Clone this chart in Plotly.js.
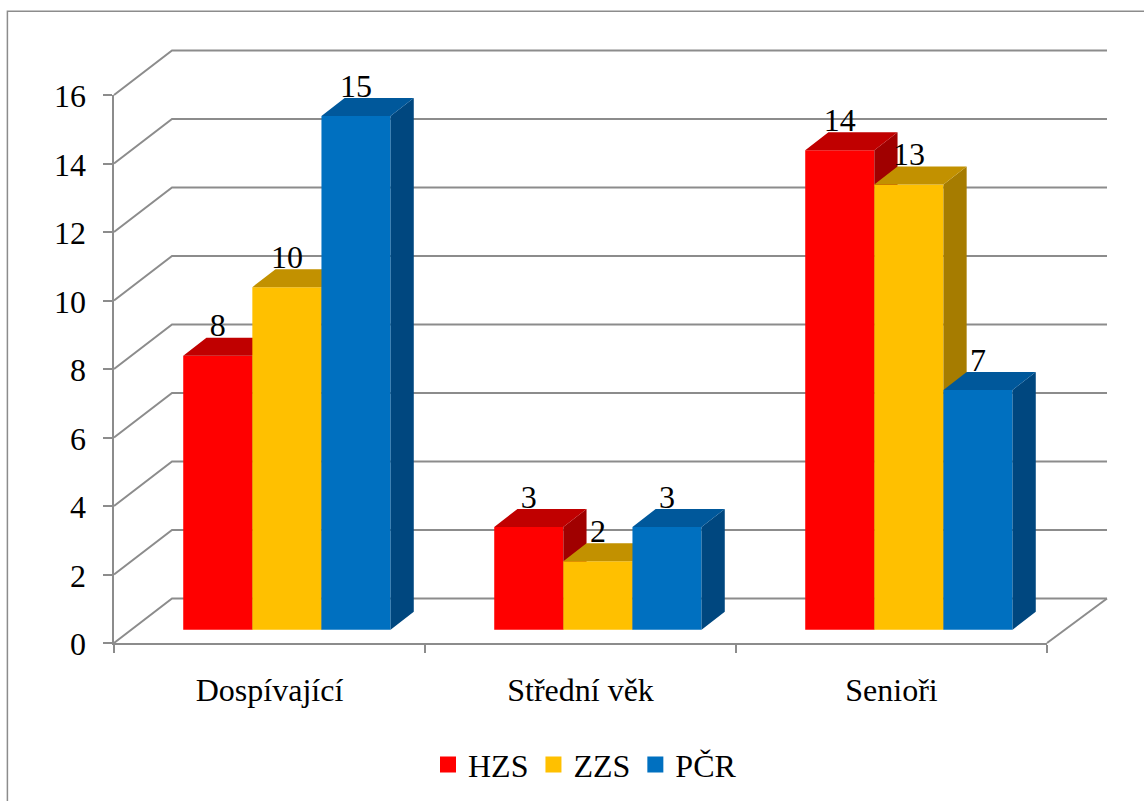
<!DOCTYPE html>
<html>
<head>
<meta charset="utf-8">
<script src="https://cdn.plot.ly/plotly-3.0.1.min.js"></script>
<style>html,body{margin:0;padding:0;background:#fff}#chart{width:1144px;height:801px}</style>
</head>
<body>
<div id="chart"></div>
<script>
const categories = ['Dospívající', 'Střední věk', 'Senioři'];
const seriesNames = ['HZS', 'ZZS', 'PČR'];
const hzs = [8, 3, 14];
const zzs = [10, 2, 13];
const pcr = [15, 3, 7];
const yTicks = [0, 2, 4, 6, 8, 10, 12, 14, 16];

const seriesValues = [hzs, zzs, pcr];
const frontColors = ['#FF0000', '#FFC000', '#0070C0'];
const topColors = ['#C00000', '#C29100', '#00589B'];
const sideColors = ['#A00000', '#A67C00', '#00477F'];

// Page geometry of the plot box, in pixels.
const W = 1144, H = 801;
const box = {l: 114, r: 1047, t: 95.3, b: 642.8};
const pxX = (box.r - box.l) / categories.length;
const pxY = (box.b - box.t) / 16;

// Oblique projection: the full floor depth expressed in axis units.
const floorDX = 58 / pxX, floorDXRight = 60 / pxX, floorDY = 44.5 / pxY;
const frontGap = 0.30, barDepth = 0.40;
const liftX = floorDX * frontGap, liftY = floorDY * frontGap;
const depthX = floorDX * barDepth, depthY = floorDY * barDepth;
const barW = 1 / 4.5, sideGap = (1 - 3 * barW) / 2;
const labelDrop = 6.5 / pxY;

const FONT = 'Liberation Serif, Times New Roman, serif';
const FONT_SIZE = 32;
const GRID = '#8C8C8C';
const LINE_W = 2;
const traces = [];

// Legend keys.
seriesNames.forEach((name, s) => traces.push({x: [null], y: [null], type: 'scatter', mode: 'markers', name,
  marker: {symbol: 'square', size: 16, color: frontColors[s]}, xaxis: 'x', yaxis: 'y'}));

// One overlaid subplot per series, so a later series paints over the sides of the previous one.
seriesNames.forEach((name, s) => {
  const xa = s ? 'x' + (s + 1) : 'x', ya = s ? 'y' + (s + 1) : 'y';
  const vals = seriesValues[s];
  const lefts = categories.map((_, c) => c + liftX + sideGap + s * barW);
  traces.push({type: 'bar', name, x: categories.map((_, c) => c), y: vals, base: liftY,
    offset: lefts.map((l, c) => l - c), width: barW, marker: {color: frontColors[s], line: {width: 0}},
    showlegend: false, hoverinfo: 'skip', xaxis: xa, yaxis: ya});
  const sx = [], sy = [], tx = [], ty = [];
  vals.forEach((v, c) => {
    const x0 = lefts[c], x1 = x0 + barW, yb = liftY, yt = liftY + v;
    sx.push(x1, x1 + depthX, x1 + depthX, x1, x1, null);
    sy.push(yb, yb + depthY, yt + depthY, yt, yb, null);
    tx.push(x0, x0 + depthX, x1 + depthX, x1, x0, null);
    ty.push(yt, yt + depthY, yt + depthY, yt, yt, null);
  });
  [[sx, sy, sideColors[s]], [tx, ty, topColors[s]]].forEach(([px, py, col]) => traces.push({
    x: px, y: py, type: 'scatter', mode: 'lines', fill: 'toself', fillcolor: col, line: {width: 0, color: col},
    showlegend: false, hoverinfo: 'skip', xaxis: xa, yaxis: ya}));
});

// Value labels, above every bar.
seriesNames.forEach((name, s) => {
  traces.push({type: 'scatter', mode: 'text', cliponaxis: false, showlegend: false, hoverinfo: 'skip',
    x: seriesValues[s].map((_, c) => c + liftX + sideGap + s * barW + barW / 2),
    y: seriesValues[s].map(v => v + liftY + depthY - labelDrop),
    text: seriesValues[s].map(String), textposition: 'top center',
    textfont: {family: FONT, size: FONT_SIZE, color: '#000'}, xaxis: 'x3', yaxis: 'y3'});
});

const xRange = [0, categories.length], yRange = [0, 16];
const hiddenX = o => ({overlaying: 'x', range: xRange, visible: false, fixedrange: true, anchor: o});
const hiddenY = o => ({overlaying: 'y', range: yRange, visible: false, fixedrange: true, anchor: o});
const fx = p => (p - box.l) / (box.r - box.l);
const fy = p => (box.b - p) / (box.b - box.t);

// Back wall and floor lines: axis units mapped onto the plot box fractions, free of the plot clip.
const toPaper = (x, y) => `${x / categories.length},${y / 16}`;
const wallLines = yTicks.map(v => ({
  type: 'path', xref: 'paper', yref: 'paper', layer: 'below',
  path: `M${toPaper(0, v)} L${toPaper(floorDX, v + floorDY)} L${toPaper(categories.length + floorDXRight, v + floorDY)}`,
  line: {color: GRID, width: LINE_W}
}));
wallLines.push({
  type: 'path', xref: 'paper', yref: 'paper', layer: 'below',
  path: `M${toPaper(categories.length, 0)} L${toPaper(categories.length + floorDXRight, floorDY)}`,
  line: {color: GRID, width: LINE_W}
});

const layout = {
  width: W, height: H, paper_bgcolor: '#fff', plot_bgcolor: 'rgba(0,0,0,0)',
  margin: {l: box.l, r: W - box.r, t: box.t, b: H - box.b, pad: 0, autoexpand: false},
  barmode: 'overlay', showlegend: true,
  font: {family: FONT, size: FONT_SIZE, color: '#000'},
  xaxis: {
    range: xRange, fixedrange: true, showgrid: false, zeroline: false,
    showline: true, linecolor: GRID, linewidth: LINE_W,
    tickmode: 'array', tickvals: categories.map((_, c) => c + 0.5), ticktext: categories,
    ticks: '', ticklabelstandoff: 18, tickfont: {family: FONT, size: FONT_SIZE, color: '#000'},
    minor: {tickmode: 'array', tickvals: [0, 1, 2, 3], ticks: 'outside', ticklen: 8, tickwidth: LINE_W, tickcolor: GRID, showgrid: false}
  },
  yaxis: {
    range: yRange, fixedrange: true, showgrid: false, zeroline: false,
    showline: true, linecolor: GRID, linewidth: LINE_W,
    tickmode: 'array', tickvals: yTicks, ticktext: yTicks.map(String),
    ticks: 'outside', ticklen: 9.5, tickwidth: LINE_W, tickcolor: GRID, ticklabelstandoff: 10, ticklabelshift: 1,
    tickfont: {family: FONT, size: FONT_SIZE, color: '#000'}
  },
  xaxis2: hiddenX('y2'), yaxis2: hiddenY('x2'),
  xaxis3: hiddenX('y3'), yaxis3: hiddenY('x3'),
  legend: {orientation: 'h', x: fx(428), xanchor: 'left', y: fy(737), yanchor: 'top',
    font: {family: FONT, size: FONT_SIZE, color: '#000'}, bgcolor: 'rgba(0,0,0,0)', itemclick: false, itemdoubleclick: false},
  shapes: wallLines.concat([{type: 'path', xref: 'paper', yref: 'paper',
    path: `M${fx(1150)},${fy(11.7)} L${fx(7.4)},${fy(11.7)} L${fx(7.4)},${fy(810)}`,
    line: {color: '#8C8C8C', width: 1.5}}])
};

Plotly.newPlot('chart', traces, layout, {displayModeBar: false, staticPlot: true});
</script>
</body>
</html>
